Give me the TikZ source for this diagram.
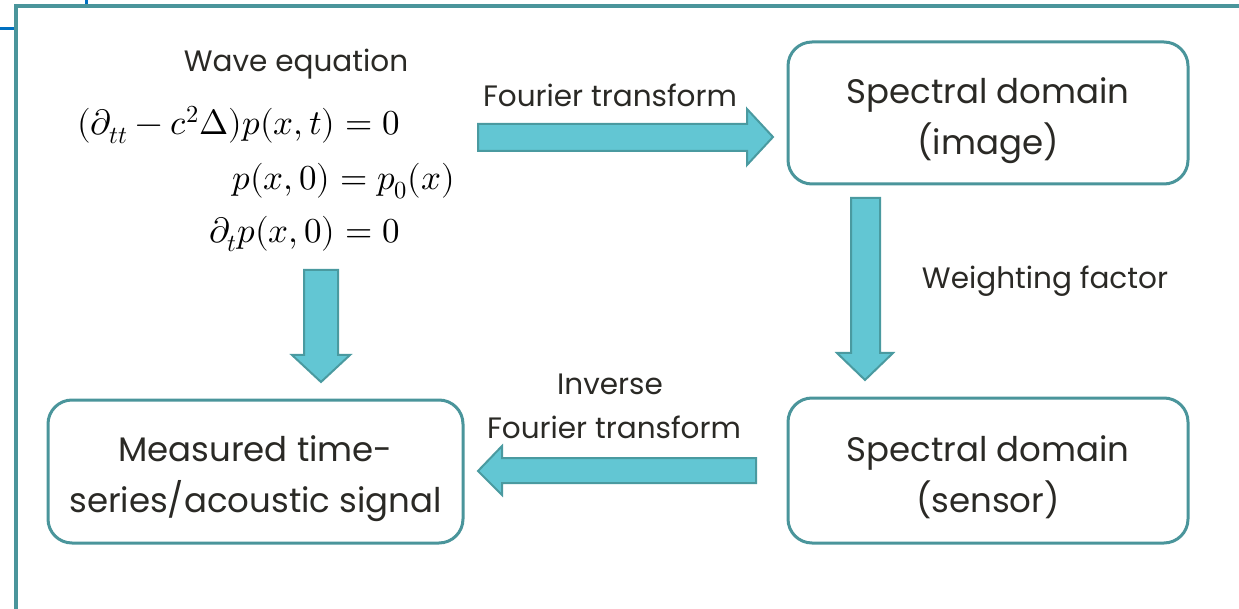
\documentclass[tikz,border=0pt]{standalone}
\usepackage{fontspec}
\setmainfont{Poppins}
\usepackage{amsmath}
\usepackage{unicode-math}
\setmathfont{Latin Modern Math}
\definecolor{frameteal}{HTML}{4A959B}
\definecolor{boxteal}{HTML}{4A959B}
\definecolor{arrfill}{HTML}{62C6D3}
\definecolor{arrline}{HTML}{4A9AA0}
\definecolor{txt}{HTML}{2A2925}
\definecolor{accent}{HTML}{0070C0}
\tikzset{
  roundbox/.style={draw=boxteal, line width=3pt, rounded corners=24pt, fill=white, inner sep=0pt},
  boxtext/.style={text=txt, align=center, inner sep=0pt, font=\fontsize{34}{51}\selectfont},
  blockarrow/.style={draw=arrline, fill=arrfill, line width=2pt, line join=miter},
  lbl/.style={text=txt, inner sep=0pt, font=\fontsize{29.5}{36}\selectfont},
  eq/.style={inner sep=0pt, text=black, font=\fontsize{35}{42}\selectfont}
}
\begin{document}
\begin{tikzpicture}[x=1pt,y=-1pt]
\useasboundingbox (0,0) rectangle (1239,609);
% frame
\draw[accent, line width=3pt] (0,29) -- (16,29);
\draw[accent, line width=3pt] (86,0) -- (86,6);
\draw[frameteal, line width=3.5pt] (1239,6) -- (16,6) -- (16,609);
% boxes
\node[roundbox, minimum width=400pt, minimum height=142pt] (img) at (988,113) {};
\node[roundbox, minimum width=400pt, minimum height=145pt] (sen) at (988,470.5) {};
\node[roundbox, minimum width=415pt, minimum height=143pt] (meas) at (255.5,471.5) {};
\node[boxtext] (imgt) at ([yshift=-8pt]img.center) {Spectral domain\\(image)};
\node[boxtext] (sent) at ([yshift=-7pt]sen.center) {Spectral domain\\(sensor)};
\node[boxtext] (meast) at ([yshift=-7pt]meas.center) {Measured time-\\series/acoustic signal};
% labels
\node[lbl] (weq) at (296,64) {Wave equation};
\node[lbl] (ft) at (610,95) {Fourier transform};
\node[lbl] (wf) at (1045,281) {Weighting factor};
\node[lbl] (inv) at (610,384) {Inverse};
\node[lbl] (ift) at (614,427) {Fourier transform};
% equations
\node[eq, anchor=base east] (e1) at (400,135) {$(\partial_{tt}-c^2\Delta)p(x,t)=0$};
\node[eq, anchor=base east] (e2) at (455,190) {$p(x,0)=p_0(x)$};
\node[eq, anchor=base east] (e3) at (400,243) {$\partial_t p(x,0)=0$};
% block arrows
\draw[blockarrow] (478,124) -- (747,124) -- (747,109) -- (773,137) -- (747,165) -- (747,151) -- (478,151) -- cycle;
\draw[blockarrow] (851,198) -- (880,198) -- (880,353) -- (893,353) -- (865,380) -- (837,353) -- (851,353) -- cycle;
\draw[blockarrow] (304,270) -- (338,270) -- (338,355) -- (350,355) -- (321,382) -- (292,355) -- (304,355) -- cycle;
\draw[blockarrow] (756,458) -- (502,458) -- (502,446) -- (478,471) -- (502,495) -- (502,483) -- (756,483) -- cycle;
\end{tikzpicture}
\end{document}
